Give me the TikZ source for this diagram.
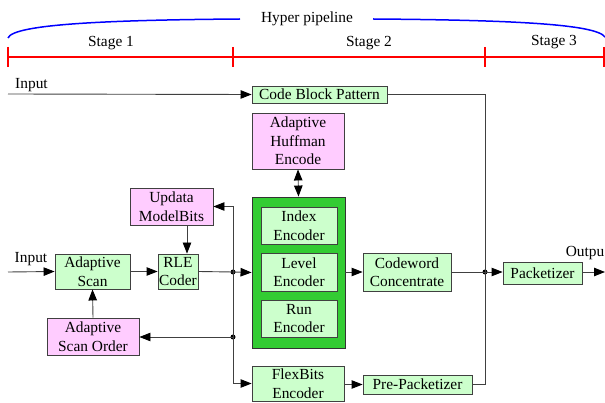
\documentclass[tikz,border=0pt]{standalone}
\usepackage{fontspec}
\setmainfont{Liberation Serif}
\usetikzlibrary{arrows.meta,calc}
\definecolor{lgreen}{HTML}{CCFFCC}
\definecolor{lpink}{HTML}{FFCCFF}
\definecolor{dgreen}{HTML}{33CC33}
\definecolor{edge}{HTML}{404040}
\begin{document}
\begin{tikzpicture}[x=1pt,y=-1pt,
  every node/.style={font=\fontsize{15.4}{18.5}\selectfont},
  blk/.style={draw=edge,line width=0.9pt,inner sep=0pt,align=center,anchor=center},
  gbox/.style={blk,fill=lgreen},
  pbox/.style={blk,fill=lpink},
  conn/.style={draw=edge,line width=0.9pt},
  tip/.tip={Triangle[length=11pt,width=8.5pt,color=black]},
  arr/.style={conn,-tip},
  darr/.style={conn,tip-tip},
  dot/.style={circle,fill=black,inner sep=0pt,minimum size=5pt},
  lbl/.style={inner sep=0pt,anchor=center}
]
\useasboundingbox (0,0) rectangle (605,403);
% pipeline header
\node[lbl] (hyp) at (307,19) {Hyper pipeline};
\draw[blue,line width=1.5pt] (8,38) .. controls (13,24) and (110,20) .. (240,19);
\draw[blue,line width=1.5pt] (373,19) .. controls (510,20) and (596,24) .. (605,37);
\draw[red,line width=2.8pt] (8,57) -- (605,57);
\foreach \xx in {8,233,485,604}{\draw[red,line width=1.8pt] (\xx,47) -- (\xx,67);}
\node[lbl] (s1) at (111,43) {Stage 1};
\node[lbl] (s2) at (369,43) {Stage 2};
\node[lbl] (s3) at (554,42) {Stage 3};
% boxes
\node[gbox,minimum width=135pt,minimum height=17pt] (cbp) at (319.5,94.5) {Code Block Pattern};
\node[pbox,minimum width=92pt,minimum height=56pt] (huff) at (298,141) {Adaptive\\Huffman\\Encode};
\node[blk,fill=dgreen,draw=black!80,minimum width=93pt,minimum height=151pt] (grn) at (298.5,272.5) {};
\node[gbox,minimum width=76pt,minimum height=37pt] (idx) at (299,225.5) {Index\\Encoder};
\node[gbox,minimum width=76pt,minimum height=38pt] (lev) at (299,272) {Level\\Encoder};
\node[gbox,minimum width=76pt,minimum height=37pt] (run) at (299,318.5) {Run\\Encoder};
\node[pbox,minimum width=83pt,minimum height=37pt] (upd) at (171.5,206.5) {Updata\\ModelBits};
\node[gbox,minimum width=40pt,minimum height=35pt] (rle) at (178,271.5) {RLE\\Coder};
\node[gbox,minimum width=75pt,minimum height=35pt] (ascan) at (92.5,271.5) {Adaptive\\Scan};
\node[pbox,minimum width=92pt,minimum height=37pt] (aso) at (93,336.5) {Adaptive\\Scan Order};
\node[gbox,minimum width=92pt,minimum height=35pt] (flex) at (298,383.5) {FlexBits\\Encoder};
\node[gbox,minimum width=88pt,minimum height=38pt] (cw) at (407,272) {Codeword\\Concentrate};
\node[gbox,minimum width=109pt,minimum height=19pt] (pre) at (417.5,384.5) {Pre-Packetizer};
\node[gbox,minimum width=79pt,minimum height=22pt] (pack) at (542.5,273) {Packetizer};
% coordinates
\coordinate (in1) at (8,94);
\coordinate (in2) at (8,272);
\coordinate (out) at (605,272);
\coordinate (xa) at (187,0);
\node[dot] (j1) at (233,272) {};
\node[dot] (j3) at (233,337) {};
\node[dot] (j2) at (485,272) {};
% labels
\node[lbl] (lin1) at (31.5,85) {Input};
\node[lbl] (lin2) at (31,259) {Input};
\node[lbl,anchor=east] (lout) at (604.5,253) {Outpu};
% connectors
\draw[arr] (in1) -- (cbp.west);
\draw[conn] (cbp.east) -| (j2.center);
\draw[arr] (in2) -- (ascan.west);
\draw[arr] (ascan.east |- rle.west) -- (rle.west);
\draw[conn] (rle.east) -- (j1.center);
\draw[arr] (j1.center) -- (grn.west);
\draw[arr] (j1.center) |- (upd.east);
\draw[arr] (j1.center) |- (flex.west);
\draw[arr] (j3.center) -- (j3.center -| aso.east);
\draw[arr] (upd.south -| xa) -- (rle.north -| xa);
\draw[arr] (aso.north) -- (ascan.south);
\draw[darr] (huff.south) -- (grn.north);
\draw[arr] (grn.east |- cw.west) -- (cw.west);
\draw[conn] (cw.east) -- (j2.center);
\draw[arr] (j2.center) -- (j2.center -| pack.west);
\draw[arr] (pack.east |- out) -- (out);
\draw[arr] (flex.east |- pre.west) -- (pre.west);
\draw[conn] (pre.east) -| (j2.center);
\end{tikzpicture}
\end{document}
